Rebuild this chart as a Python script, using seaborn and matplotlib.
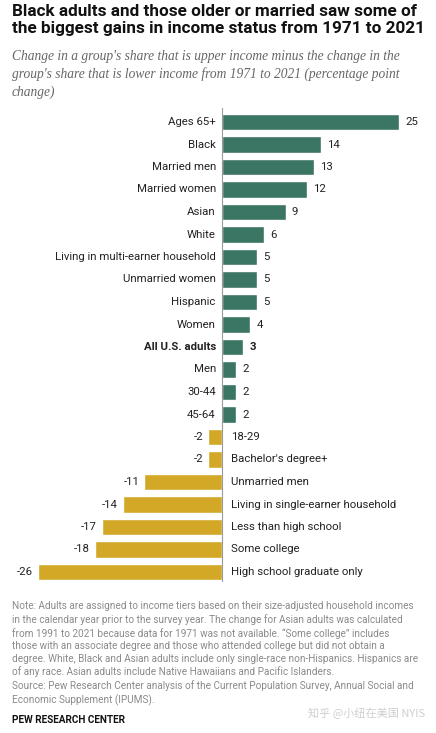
import matplotlib
matplotlib.use("Agg")
import matplotlib.pyplot as plt
import seaborn as sns
import pandas as pd

categories = ["Ages 65+", "Black", "Married men", "Married women", "Asian", "White",
              "Living in multi-earner household", "Unmarried women", "Hispanic", "Women",
              "All U.S. adults", "Men", "30-44", "45-64", "18-29", "Bachelor's degree+",
              "Unmarried men", "Living in single-earner household", "Less than high school",
              "Some college", "High school graduate only"]
values = [25, 14, 13, 12, 9, 6, 5, 5, 5, 4, 3, 2, 2, 2, -2, -2, -11, -14, -17, -18, -26]

title = "Black adults and those older or married saw some of\nthe biggest gains in income status from 1971 to 2021"
subtitle = ("Change in a group's share that is upper income minus the change in the\n"
            "group's share that is lower income from 1971 to 2021 (percentage point\n"
            "change)")
note = ("Note: Adults are assigned to income tiers based on their size-adjusted household incomes\n"
        "in the calendar year prior to the survey year. The change for Asian adults was calculated\n"
        "from 1991 to 2021 because data for 1971 was not available. \u201cSome college\u201d includes\n"
        "those with an associate degree and those who attended college but did not obtain a\n"
        "degree. White, Black and Asian adults include only single-race non-Hispanics. Hispanics are\n"
        "of any race. Asian adults include Native Hawaiians and Pacific Islanders.\n"
        "Source: Pew Research Center analysis of the Current Population Survey, Annual Social and\n"
        "Economic Supplement (IPUMS).")
brand = "PEW RESEARCH CENTER"
watermark = "知乎 @小纽在美国 NYIS"

GREEN = "#3b7665"
GOLD = "#d2a826"

df = pd.DataFrame({"category": categories, "value": values})
df["dir"] = ["pos" if v > 0 else "neg" for v in values]

sns.set_style("white")
plt.rcParams["font.family"] = ["Roboto", "DejaVu Sans"]

W, H = 436, 733
fig = plt.figure(figsize=(W / 100, H / 100), dpi=100)

zero_px = 222
ppu = 7.08
ax_top, ax_bot = 108, 582
ax = fig.add_axes([0, 1 - ax_bot / H, 1, (ax_bot - ax_top) / H])

sns.barplot(data=df, x="value", y="category", hue="dir", palette={"pos": GREEN, "neg": GOLD},
            dodge=False, legend=False, width=0.74, orient="h", ax=ax, saturation=1)

ax.set_xlim(-zero_px / ppu, (W - zero_px) / ppu)
step = (572 - 122) / 20
ax.set_ylim(20 + (ax_bot - 572) / step, -(122 - ax_top) / step)
ax.axis("off")
ax.axvline(0, color="#9a9a9a", lw=0.8, ymin=0, ymax=1)

fs = 8.2
for i, (c, v) in enumerate(zip(categories, values)):
    bold = c == "All U.S. adults"
    fw = "bold" if bold else "normal"
    if v > 0:
        ax.annotate(c, (0, i), xytext=(-4.5, 0), textcoords="offset points",
                    ha="right", va="center", fontsize=fs, color="#222222", fontweight=fw)
        ax.annotate(str(v), (v, i), xytext=(4.5, 0), textcoords="offset points",
                    ha="left", va="center", fontsize=fs, color="#222222", fontweight=fw)
    else:
        ax.annotate(c, (0, i), xytext=(6.5, 0), textcoords="offset points",
                    ha="left", va="center", fontsize=fs, color="#222222", fontweight=fw)
        ax.annotate(str(v), (v, i), xytext=(-3.5, 0), textcoords="offset points",
                    ha="right", va="center", fontsize=fs, color="#222222", fontweight=fw)

fig.text(12 / W, 1 - 4 / H, title, ha="left", va="top", fontsize=12.35, fontweight="bold",
         color="#111111", linespacing=1.2, family=["Roboto", "DejaVu Sans"])
fig.text(12 / W, 1 - 50 / H, subtitle, ha="left", va="top", fontsize=9.75, style="italic",
         color="#666666", linespacing=1.4, family=["Liberation Serif"])
fig.text(12 / W, 1 - 601 / H, note, ha="left", va="top", fontsize=7.2,
         color="#8a8a8a", linespacing=1.32)
fig.text(12 / W, 1 - 720 / H, brand, ha="left", va="center", fontsize=7.2, fontweight="bold",
         color="#111111")
fig.text(425 / W, 1 - 713 / H, watermark, ha="right", va="center", fontsize=8,
         color="#cfcfcf", family=["Noto Sans CJK SC", "DejaVu Sans"])

fig.savefig("out.png", dpi=100)
